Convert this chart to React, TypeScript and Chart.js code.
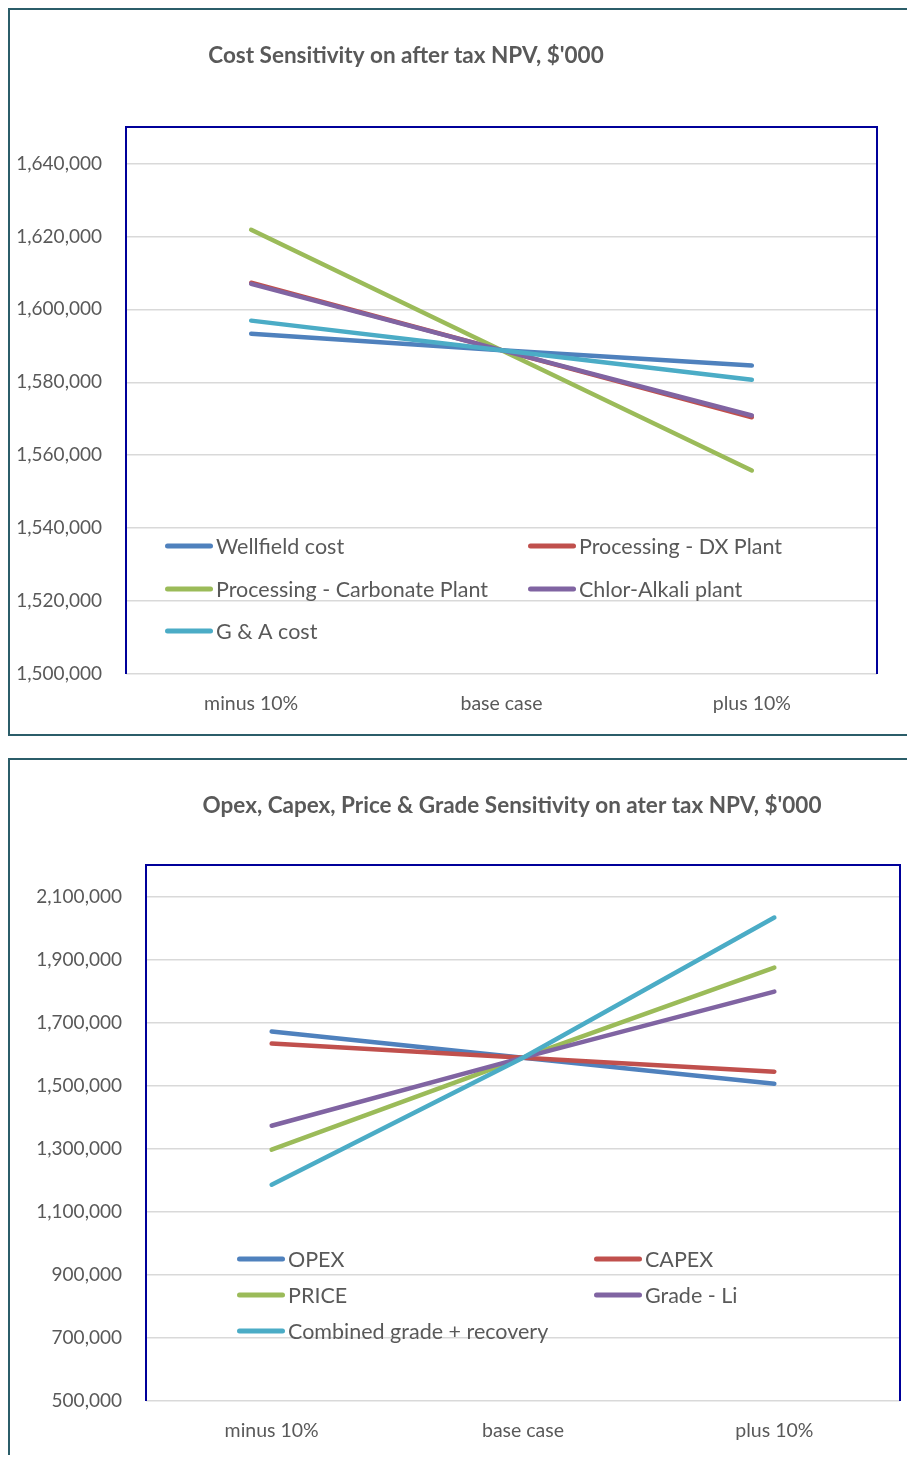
import React, { useEffect, useRef } from "react";
import { Chart, registerables } from "chart.js";

Chart.register(...registerables);

// ---------- data ----------
const CATEGORIES = ["minus 10%", "base case", "plus 10%"];

// Chart 1: Cost sensitivity
const COST_TITLE = "Cost Sensitivity on after tax NPV, $'000";
const COST_LABELS = [
  "Wellfield cost",
  "Processing - DX Plant",
  "Processing - Carbonate Plant",
  "Chlor-Alkali plant",
  "G & A cost",
];
const WELLFIELD = [1593300, 1588800, 1584600];
const DX_PLANT = [1607300, 1588800, 1570400];
const CARBONATE = [1621800, 1588800, 1555800];
const CHLOR_ALKALI = [1607000, 1588800, 1570900];
const GA_COST = [1596900, 1588800, 1580700];
const COST_Y_MIN = 1500000;
const COST_Y_MAX = 1650000;
const COST_Y_TICKS = [1500000, 1520000, 1540000, 1560000, 1580000, 1600000, 1620000, 1640000];

// Chart 2: Opex, Capex, Price & Grade
const OCPG_TITLE = "Opex, Capex, Price & Grade Sensitivity on ater tax NPV, $'000";
const OCPG_LABELS = ["OPEX", "CAPEX", "PRICE", "Grade - Li", "Combined grade + recovery"];
const OPEX = [1671600, 1589000, 1506500];
const CAPEX = [1633500, 1589000, 1544600];
const PRICE = [1297000, 1589000, 1874800];
const GRADE_LI = [1373100, 1589000, 1798600];
const COMBINED = [1185800, 1589000, 2033500];
const OCPG_Y_MIN = 500000;
const OCPG_Y_MAX = 2200000;
const OCPG_Y_TICKS = [500000, 700000, 900000, 1100000, 1300000, 1500000, 1700000, 1900000, 2100000];

// ---------- styles ----------
const SERIES_COLORS = ["#4F81BD", "#C0504D", "#9BBB59", "#8064A2", "#4BACC6"];
const FONT = "Lato, 'Open Sans', sans-serif";
const TEXT_COLOR = "#595959";
const FRAME_COLOR = "#00009A";
const BOX_BORDER = "#2B5D69";

const titlePlugin = {
  id: "fixedTitle",
  afterDraw(chart: any, _args: any, opts: any) {
    const { ctx } = chart;
    ctx.save();
    ctx.font = `bold ${opts.size}px ${FONT}`;
    ctx.fillStyle = TEXT_COLOR;
    ctx.textAlign = "center";
    ctx.textBaseline = "middle";
    ctx.fillText(opts.text, opts.x, opts.y);
    ctx.restore();
  },
};

const framePlugin = {
  id: "plotFrame",
  afterDraw(chart: any) {
    const { ctx, chartArea } = chart;
    ctx.save();
    ctx.strokeStyle = FRAME_COLOR;
    ctx.lineWidth = 2;
    ctx.beginPath();
    ctx.moveTo(chartArea.left, chartArea.bottom);
    ctx.lineTo(chartArea.left, chartArea.top);
    ctx.lineTo(chartArea.right, chartArea.top);
    ctx.lineTo(chartArea.right, chartArea.bottom);
    ctx.stroke();
    ctx.restore();
  },
};

const legendPlugin = {
  id: "insideLegend",
  afterDatasetsDraw(chart: any, _args: any, opts: any) {
    const { ctx, chartArea } = chart;
    ctx.save();
    ctx.font = `${opts.size}px ${FONT}`;
    ctx.textBaseline = "middle";
    ctx.textAlign = "left";
    chart.data.datasets.forEach((ds: any, i: number) => {
      const col = i % 2;
      const row = Math.floor(i / 2);
      const x = chartArea.left + opts.colX[col];
      const y = chartArea.bottom + opts.rowY[row];
      ctx.strokeStyle = ds.borderColor;
      ctx.lineWidth = 5;
      ctx.lineCap = "round";
      ctx.beginPath();
      ctx.moveTo(x + 2.5, y);
      ctx.lineTo(x + opts.sample - 2.5, y);
      ctx.stroke();
      ctx.fillStyle = TEXT_COLOR;
      ctx.fillText(ds.label, x + opts.sample + 3, y + 1);
    });
    ctx.restore();
  },
};

type Props = {
  width: number;
  height: number;
  title: string;
  titleX: number;
  titleY: number;
  labels: string[];
  series: number[][];
  yMin: number;
  yMax: number;
  yTicks: number[];
  pad: { top: number; right: number; bottom: number };
  yAxisWidth: number;
  xAxisHeight: number;
  legendCols: number[];
  legendRows: number[];
};

function SensitivityChart(p: Props) {
  const ref = useRef<HTMLCanvasElement | null>(null);
  useEffect(() => {
    if (!ref.current) return;
    const n = p.series.length;
    const chart = new Chart(ref.current, {
      type: "line",
      data: {
        labels: CATEGORIES,
        datasets: p.series.map((values, i) => ({
          label: p.labels[i],
          data: values,
          borderColor: SERIES_COLORS[i],
          backgroundColor: SERIES_COLORS[i],
          borderWidth: 4.5,
          borderCapStyle: "round",
          pointRadius: 0,
          pointHoverRadius: 0,
          tension: 0,
          fill: false,
          order: n - i,
        })),
      },
      options: {
        responsive: false,
        animation: false,
        layout: { padding: { left: 0, top: p.pad.top, right: p.pad.right, bottom: p.pad.bottom } },
        plugins: {
          legend: { display: false },
          title: { display: false },
          tooltip: { enabled: false },
          fixedTitle: { text: p.title, x: p.titleX, y: p.titleY, size: 22.5 },
          insideLegend: { colX: p.legendCols, rowY: p.legendRows, sample: 48, size: 21.5 },
        } as any,
        scales: {
          x: {
            offset: true,
            grid: { display: false, drawTicks: false },
            border: { display: false },
            ticks: { color: TEXT_COLOR, font: { family: FONT, size: 19.5 }, padding: 18, maxRotation: 0 },
            afterFit: (s: any) => {
              s.height = p.xAxisHeight;
            },
          },
          y: {
            min: p.yMin,
            max: p.yMax,
            grid: { color: "#D9D9D9", lineWidth: 1.5, drawTicks: false },
            border: { display: false },
            ticks: {
              color: TEXT_COLOR,
              font: { family: FONT, size: 19 },
              padding: 24,
              callback: (v: any) => Number(v).toLocaleString("en-US"),
            },
            afterBuildTicks: (axis: any) => {
              axis.ticks = p.yTicks.map((v) => ({ value: v }));
            },
            afterFit: (s: any) => {
              s.width = p.yAxisWidth;
            },
          },
        },
      },
      plugins: [titlePlugin, framePlugin, legendPlugin],
    } as any);
    return () => chart.destroy();
  }, []);
  return <canvas ref={ref} width={p.width} height={p.height} style={{ display: "block" }} />;
}

export default function App() {
  const box: React.CSSProperties = {
    borderLeft: `2px solid ${BOX_BORDER}`,
    borderTop: `2px solid ${BOX_BORDER}`,
    boxSizing: "border-box",
    background: "#fff",
  };
  return (
    <div style={{ width: 899, overflow: "hidden" }}>
      <div style={{ ...box, borderBottom: `2px solid ${BOX_BORDER}`, height: 728 }}>
        <SensitivityChart
          width={897}
          height={724}
          title={COST_TITLE}
          titleX={396}
          titleY={46}
          labels={COST_LABELS}
          series={[WELLFIELD, DX_PLANT, CARBONATE, CHLOR_ALKALI, GA_COST]}
          yMin={COST_Y_MIN}
          yMax={COST_Y_MAX}
          yTicks={COST_Y_TICKS}
          pad={{ top: 117, right: 30, bottom: 20 }}
          yAxisWidth={116}
          xAxisHeight={40}
          legendCols={[39, 402]}
          legendRows={[-128, -85, -43]}
        />
      </div>
      <div style={{ height: 22 }} />
      <div style={{ ...box, height: 697 }}>
        <SensitivityChart
          width={897}
          height={695}
          title={OCPG_TITLE}
          titleX={502}
          titleY={46}
          labels={OCPG_LABELS}
          series={[OPEX, CAPEX, PRICE, GRADE_LI, COMBINED]}
          yMin={OCPG_Y_MIN}
          yMax={OCPG_Y_MAX}
          yTicks={OCPG_Y_TICKS}
          pad={{ top: 105, right: 7, bottom: 14 }}
          yAxisWidth={136}
          xAxisHeight={40}
          legendCols={[91, 448]}
          legendRows={[-142, -106, -70]}
        />
      </div>
    </div>
  );
}
